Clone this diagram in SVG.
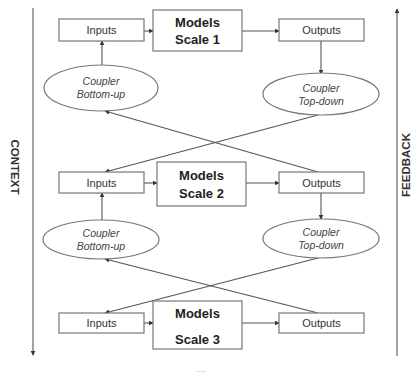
<svg xmlns="http://www.w3.org/2000/svg" width="412" height="376" viewBox="0 0 412 376">
<defs>
<marker id="ah" viewBox="0 0 8 8" refX="7" refY="4" markerWidth="5" markerHeight="5" orient="auto-start-reverse" markerUnits="userSpaceOnUse">
<path d="M0,0 L8,4 L0,8 z" fill="#333"/>
</marker>
<style>
.box{fill:#fff;stroke:#777;stroke-width:1.2}
.ell{fill:#fff;stroke:#777;stroke-width:1.2}
.lbl{font-family:"Liberation Sans",Arial,sans-serif;font-size:11px;fill:#333;text-anchor:middle}
.mdl{font-family:"Liberation Sans",Arial,sans-serif;font-size:13px;font-weight:bold;fill:#222;text-anchor:middle}
.cpl{font-family:"Liberation Sans",Arial,sans-serif;font-size:10.5px;font-style:italic;fill:#444;text-anchor:middle}
.side{font-family:"Liberation Sans",Arial,sans-serif;font-size:11.5px;font-weight:bold;fill:#333;text-anchor:middle}
.ln{stroke:#555;stroke-width:1.1;fill:none}
.ar{stroke:#555;stroke-width:1.1;fill:none;marker-end:url(#ah)}
</style>
</defs>
<rect width="412" height="376" fill="#fff"/>

<g id="connectors">
<line class="ar" x1="33" y1="8" x2="33" y2="355"/>
<line class="ar" x1="397" y1="356" x2="397" y2="9"/>
<line class="ar" x1="144" y1="31" x2="153" y2="31"/>
<line class="ar" x1="242" y1="31" x2="279" y2="31"/>
<line class="ar" x1="102" y1="65" x2="102" y2="41"/>
<line class="ar" x1="321" y1="41" x2="321" y2="74"/>
<line class="ar" x1="318" y1="115" x2="105" y2="172"/>
<line class="ar" x1="318" y1="172" x2="105" y2="111"/>
<line class="ar" x1="144" y1="183" x2="157" y2="183"/>
<line class="ar" x1="246" y1="183" x2="279" y2="183"/>
<line class="ar" x1="102" y1="220" x2="102" y2="193"/>
<line class="ar" x1="321" y1="193" x2="321" y2="219"/>
<line class="ar" x1="318" y1="258" x2="105" y2="313"/>
<line class="ar" x1="318" y1="313" x2="105" y2="259"/>
<line class="ar" x1="144" y1="323" x2="153" y2="323"/>
<line class="ar" x1="242" y1="323" x2="279" y2="323"/>
</g>

<g id="context"><text class="side" transform="translate(11,167) rotate(90)">CONTEXT</text></g>
<g id="feedback"><text class="side" transform="translate(410,165) rotate(-90)">FEEDBACK</text></g>

<g id="inputs1"><rect class="box" x="59" y="19" width="85" height="22"/><text class="lbl" x="101.5" y="34">Inputs</text></g>
<g id="models1"><rect class="box" x="153" y="10" width="89" height="41"/><text class="mdl" x="197.5" y="27">Models</text><text class="mdl" x="197.5" y="44">Scale 1</text></g>
<g id="outputs1"><rect class="box" x="279" y="19" width="85" height="22"/><text class="lbl" x="321.5" y="34">Outputs</text></g>
<g id="bottomup1"><ellipse class="ell" cx="101" cy="88" rx="57" ry="23"/><text class="cpl" x="101" y="85">Coupler</text><text class="cpl" x="101" y="98">Bottom-up</text></g>
<g id="topdown1"><ellipse class="ell" cx="321" cy="94" rx="58" ry="21"/><text class="cpl" x="321" y="92">Coupler</text><text class="cpl" x="321" y="105">Top-down</text></g>

<g id="inputs2"><rect class="box" x="59" y="172" width="85" height="21"/><text class="lbl" x="101.5" y="186.5">Inputs</text></g>
<g id="models2"><rect class="box" x="157" y="162" width="89" height="44"/><text class="mdl" x="201.5" y="180">Models</text><text class="mdl" x="201.5" y="198">Scale 2</text></g>
<g id="outputs2"><rect class="box" x="279" y="172" width="85" height="21"/><text class="lbl" x="321.5" y="186.5">Outputs</text></g>
<g id="bottomup2"><ellipse class="ell" cx="101" cy="239.5" rx="58" ry="19.5"/><text class="cpl" x="101" y="237">Coupler</text><text class="cpl" x="101" y="250">Bottom-up</text></g>
<g id="topdown2"><ellipse class="ell" cx="321" cy="238.5" rx="58" ry="19.5"/><text class="cpl" x="321" y="236">Coupler</text><text class="cpl" x="321" y="249">Top-down</text></g>

<g id="inputs3"><rect class="box" x="59" y="313" width="85" height="20"/><text class="lbl" x="101.5" y="327">Inputs</text></g>
<g id="models3"><rect class="box" x="153" y="301" width="89" height="48"/><text class="mdl" x="197.5" y="318">Models</text><text class="mdl" x="197.5" y="344">Scale 3</text></g>
<g id="outputs3"><rect class="box" x="279" y="313" width="85" height="20"/><text class="lbl" x="321.5" y="327">Outputs</text></g>

<g id="dots"><text x="201" y="372" font-family="Liberation Sans, sans-serif" font-size="8" fill="#999" text-anchor="middle">....</text></g>
</svg>
